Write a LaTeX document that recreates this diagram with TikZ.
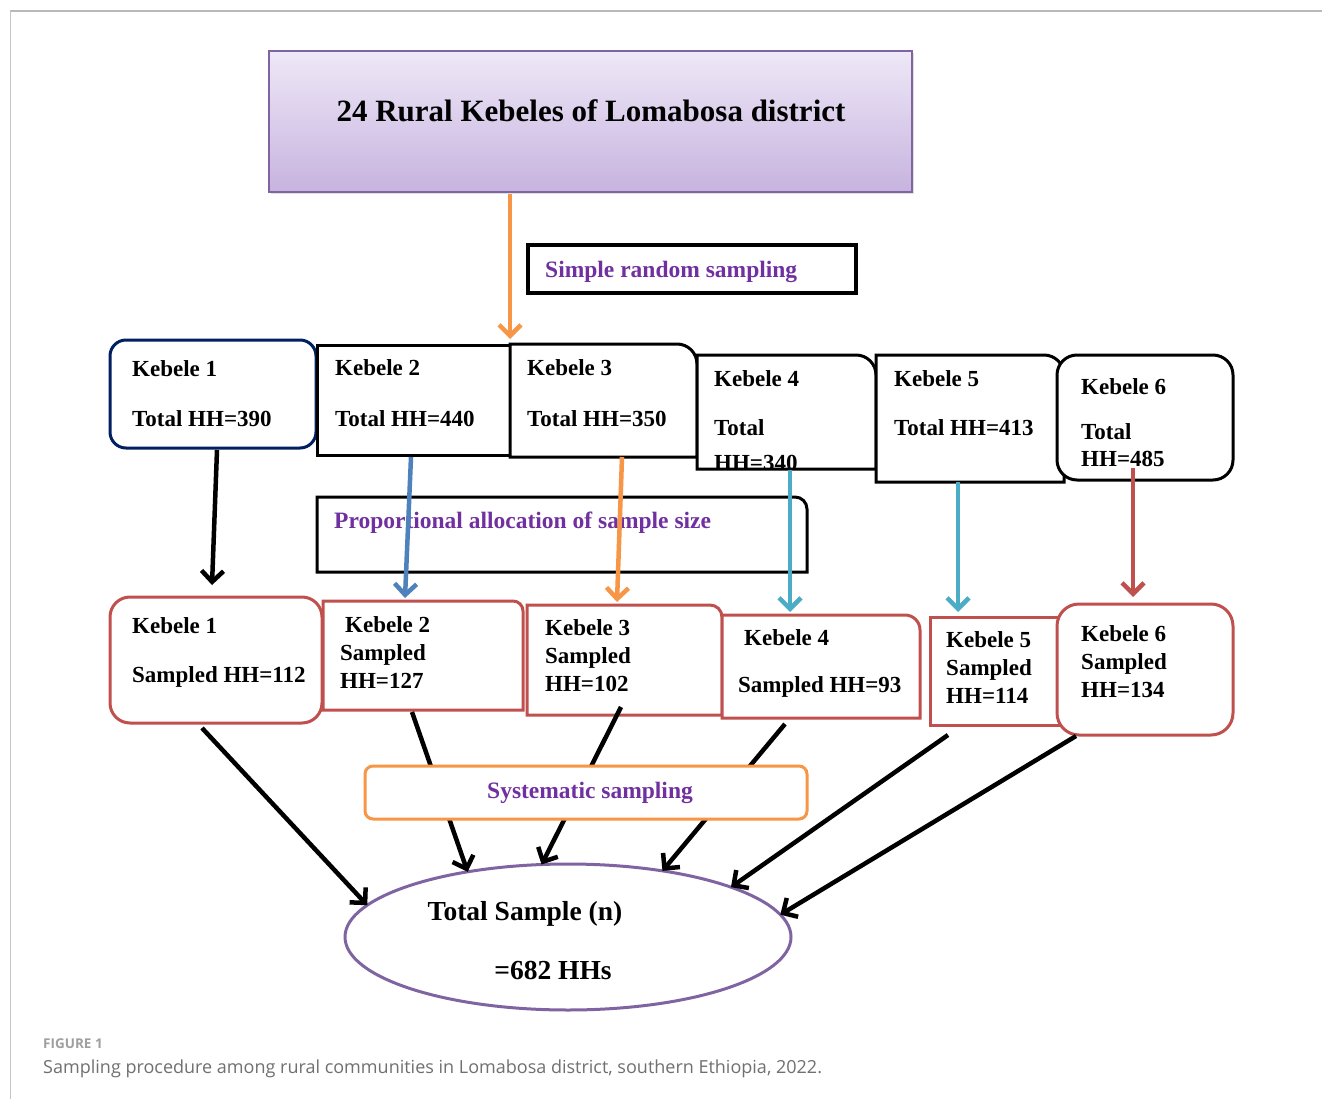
\documentclass[tikz,border=0pt]{standalone}
\usepackage{fontspec}
\setmainfont{Liberation Serif}
\newfontfamily\capfont{Open Sans}
\usetikzlibrary{arrows.meta,shapes.geometric,calc,shadows}

\definecolor{navy}{HTML}{002060}
\definecolor{ored}{HTML}{C0504D}
\definecolor{oorange}{HTML}{F79646}
\definecolor{oblue}{HTML}{4F81BD}
\definecolor{oteal}{HTML}{4BACC6}
\definecolor{opurple}{HTML}{8064A2}
\definecolor{tpurple}{HTML}{7030A0}
\definecolor{lavtop}{HTML}{EEE8F7}
\definecolor{lavbot}{HTML}{C7B3DF}
\definecolor{capgray}{HTML}{707070}

\newcommand\kfont{\fontsize{23}{27}\selectfont\bfseries}
\newcommand\pfont{\fontsize{23.5}{27}\selectfont\bfseries}
\newcommand\trbox[3]{\draw[line width=3pt, fill=white, draw=#2] (#1.south west) -- (#1.north west) -- ([xshift=-#3]#1.north east) arc[start angle=90, end angle=0, radius=#3] -- (#1.south east) -- cycle;}

\tikzset{
  rect/.style 2 args={minimum width=#1, minimum height=#2, inner sep=0pt, outer sep=0pt},
  lbl/.style={anchor=base west, inner sep=0pt, font=\kfont},
  plbl/.style={anchor=base west, inner sep=0pt, font=\pfont, text=tpurple},
  arr/.style={line width=4.5pt, -{Straight Barb[length=11pt,width=22pt]}},
}

\begin{document}
\begin{tikzpicture}[x=1pt,y=-1pt]
\useasboundingbox (0,0) rectangle (1322,1099);
\fill[white] (0,0) rectangle (1322,1099);

% frame
\coordinate (f0) at (10,11);
\coordinate (f1) at (1322,11);
\coordinate (f2) at (10,1099);
\draw[gray!55, line width=1.6pt] (f0) -- (f1);
\draw[gray!45, line width=1pt] (f0) -- (f2);

% top box
\node[rect={643pt}{141pt}, draw=opurple, line width=1.2pt, top color=lavtop, bottom color=lavbot,
      drop shadow={opacity=0.25,shadow xshift=2pt,shadow yshift=-2pt}] (top) at (590.5,121.5) {};
\node[font=\fontsize{31}{35}\selectfont\bfseries, inner sep=0pt] (toptxt) at (591,111) {24 Rural Kebeles of Lomabosa district};

% simple random sampling
\node[rect={328pt}{48pt}, draw=black, line width=3.5pt] (srs) at (692,269) {};
\node[plbl] (srst) at (545,277) {Simple random sampling};

% kebele row
\node[rect={206pt}{108pt}, draw=navy, line width=3pt, rounded corners=16pt, fill=white] (k1) at (213,394) {};
\node[lbl] (k1a) at (132,376) {Kebele 1};
\node[lbl] (k1b) at (132,426) {Total HH=390};

\node[rect={193pt}{110pt}, draw=black, line width=3pt, fill=white] (k2) at (413.5,400) {};
\node[lbl] (k2a) at (335,375) {Kebele 2};
\node[lbl] (k2b) at (335,426) {Total HH=440};

\node[rect={187pt}{113pt}] (k3) at (603.5,400.5) {};
\trbox{k3}{black}{20pt}
\node[lbl] (k3a) at (527,375) {Kebele 3};
\node[lbl] (k3b) at (527,426) {Total HH=350};

\node[rect={179pt}{114pt}] (k4) at (786.5,412) {};
\trbox{k4}{black}{20pt}
\node[lbl] (k4a) at (714,386) {Kebele 4};
\node[lbl] (k4b) at (714,435) {Total};
\begin{scope}
\clip (697,440) rectangle (876,467);
\node[lbl] (k4c) at (714,470) {HH=340};
\end{scope}

\node[rect={188pt}{127pt}] (k5) at (970,418.5) {};
\trbox{k5}{black}{20pt}
\node[lbl] (k5a) at (894,386) {Kebele 5};
\node[lbl] (k5b) at (894,435) {Total HH=413};

\node[rect={176pt}{125pt}, draw=black, line width=3pt, rounded corners=20pt, fill=white] (k6) at (1145,417.5) {};
\node[lbl] (k6a) at (1081,394) {Kebele 6};
\node[lbl] (k6b) at (1081,439) {Total};
\node[lbl] (k6c) at (1081,466) {HH=485};

% orange arrow from top
\draw[arr, oorange] ($(top.south)+(-80.5,2)$) -- ($(k3.north west)+(0,-5)$);

% proportional allocation box
\node[rect={490pt}{75pt}] (prop) at (562,534.5) {};
\trbox{prop}{black}{12pt}
\node[plbl] (propt) at (334,528) {Proportional allocation of sample size};

% sampled row
\node[rect={212pt}{126pt}, draw=ored, line width=3pt, rounded corners=20pt, fill=white] (s1) at (216,660) {};
\node[lbl] (s1a) at (132,633) {Kebele 1};
\node[lbl] (s1b) at (132,682) {Sampled HH=112};

\node[rect={200pt}{109pt}] (s2) at (423,655.5) {};
\trbox{s2}{ored}{10pt}
\node[lbl] (s2a) at (345,632) {Kebele 2};
\node[lbl] (s2b) at (340,660) {Sampled};
\node[lbl] (s2c) at (340,688) {HH=127};

\node[rect={195pt}{110pt}] (s3) at (624.5,660) {};
\trbox{s3}{ored}{12pt}
\node[lbl] (s3a) at (545,635) {Kebele 3};
\node[lbl] (s3b) at (545,663) {Sampled};
\node[lbl] (s3c) at (545,691) {HH=102};

\node[rect={198pt}{103pt}] (s4) at (821,666.5) {};
\trbox{s4}{ored}{15pt}
\node[lbl] (s4a) at (744,645) {Kebele 4};
\node[lbl] (s4b) at (738,692) {Sampled HH=93};

\node[rect={130pt}{108pt}, draw=ored, line width=3pt, fill=white] (s5) at (995,671) {};
\node[lbl] (s5a) at (946,647) {Kebele 5};
\node[lbl] (s5b) at (946,675) {Sampled};
\node[lbl] (s5c) at (946,703) {HH=114};

\node[rect={176pt}{131pt}, draw=ored, line width=3pt, rounded corners=22pt, fill=white] (s6) at (1145,669.5) {};
\node[lbl] (s6a) at (1081,641) {Kebele 6};
\node[lbl] (s6b) at (1081,669) {Sampled};
\node[lbl] (s6c) at (1081,697) {HH=134};

% colored down arrows
\draw[arr, black] ($(k1.south)+(4,2)$) -- ($(s1.north)+(-4,-12)$);
\draw[arr, oblue] ($(k2.south)+(-2.5,2)$) -- ($(s2.north)+(-18,-3)$);
\draw[arr, oorange] ($(k3.south)+(18.5,0)$) -- ($(s3.north)+(-7.5,-3)$);
\draw[arr, oteal] ($(k4.south)+(3.5,1)$) -- ($(s4.north)+(-31,-3)$);
\draw[arr, oteal] ($(k5.south)+(-12,0)$) -- ($(s5.north)+(-37,-5)$);
\draw[arr, ored] ($(k6.south)+(-12,-12)$) -- ($(s6.north)+(-12,-7)$);

% total sample ellipse
\node[ellipse, minimum width=446pt, minimum height=146pt, inner sep=0pt, outer sep=0pt,
      draw=opurple, line width=3pt, fill=white] (tot) at (568,937) {};
\node[anchor=base, inner sep=0pt, font=\fontsize{27.5}{31}\selectfont\bfseries] (tota) at (525,920) {Total Sample (n)};
\node[anchor=base, inner sep=0pt, font=\fontsize{27.5}{31}\selectfont\bfseries] (totb) at (553,979) {=682 HHs};

% arrows to total
\draw[arr, black] ($(s1.south)+(-14,5)$) -- (tot.171);
\draw[arr, black] ($(s2.south)+(-11,2)$) -- (tot.147);
\draw[arr, black] ($(s3.south)+(-3.5,-8)$) -- (tot.110);
\draw[arr, black] ($(s4.south)+(-36,6)$) -- (tot.35);
\draw[arr, black] ($(s5.south)+(-47,10)$) -- (tot.17);
\draw[arr, black] ($(s6.south)+(-69,1)$) -- (tot.6);

% systematic sampling box
\node[rect={442pt}{53pt}, draw=oorange, line width=3pt, rounded corners=8pt, fill=white] (sys) at (586,792.5) {};
\node[anchor=base, inner sep=0pt, font=\pfont, text=tpurple] (syst) at (590,798) {Systematic sampling};

% caption
\node[anchor=base west, inner sep=0pt, text=gray!75, font=\capfont\fontsize{13.5}{16}\selectfont\bfseries] (figl) at (43,1048) {FIGURE 1};
\node[anchor=base west, inner sep=0pt, text=capgray, font=\capfont\fontsize{18}{21}\selectfont] (figc) at (43,1073) {Sampling procedure among rural communities in Lomabosa district, southern Ethiopia, 2022.};
\end{tikzpicture}
\end{document}
